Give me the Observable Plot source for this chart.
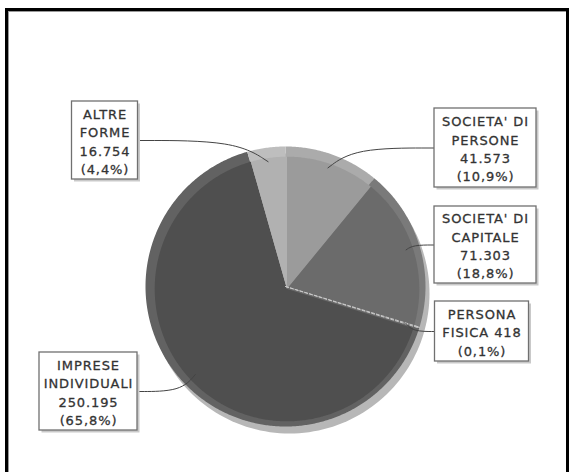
<!DOCTYPE html>
<html><head><meta charset="utf-8">
<script src="https://cdn.jsdelivr.net/npm/d3@7"></script>
<script src="https://cdn.jsdelivr.net/npm/@observablehq/plot@0.6"></script>
<style>
body{margin:0;background:#fff;}
#wrap{position:relative;width:571px;height:472px;overflow:hidden;background:#fff;}
#chart{position:absolute;left:0;top:0;}
#frame{position:absolute;left:5px;top:8px;width:558px;height:490px;border:3px solid #000;box-shadow:inset 1px 1px 0 #999;pointer-events:none;}
</style></head><body>
<div id="wrap"><div id="chart"></div><div id="frame"></div></div>
<script>
// ---- data ----
const categories = ["SOCIETA' DI PERSONE", "SOCIETA' DI CAPITALE", "PERSONA FISICA", "IMPRESE INDIVIDUALI", "ALTRE FORME"];
const values = [41573, 71303, 418, 250195, 16754];
const valueLabels = ["41.573", "71.303", "418", "250.195", "16.754"];
const percentLabels = ["10,9%", "18,8%", "0,1%", "65,8%", "4,4%"];
const labelTexts = [
  "SOCIETA' DI\nPERSONE\n41.573\n(10,9%)",
  "SOCIETA' DI\nCAPITALE\n71.303\n(18,8%)",
  "PERSONA\nFISICA 418\n(0,1%)",
  "IMPRESE\nINDIVIDUALI\n250.195\n(65,8%)",
  "ALTRE\nFORME\n16.754\n(4,4%)"
];

// ---- styles / layout ----
const mainColors = ["#9b9b9b", "#6b6b6b", "#b8b8b8", "#4f4f4f", "#b1b1b1"];
const rimColors  = ["#ababab", "#7a7a7a", "#c4c4c4", "#626262", "#bebebe"];
const R = 140;             // pie radius in px
const CX = 285, CY = 286;  // pie centre in px
// label boxes: centre offsets (px from pie centre, y down), size, side of the leader
const boxLayout = [
  {ox: 200, oy: -138.5, w: 102, h: 79, side: -1},
  {ox: 200, oy: -41.5, w: 102, h: 77, side: -1},
  {ox: 196.5, oy: 45, w: 94, h: 60, side: -1},
  {ox: -197, oy: 105, w: 98, h: 78, side: 1},
  {ox: -180.5, oy: -146, w: 66, h: 78, side: 1}
];

const W = 571, H = 472;
const xDomain = [-CX / R, (W - CX) / R];
const yDomain = [-(H - CY) / R, CY / R];

const arcs = d3.pie().sort(null).value(d => d)(values);

function slicePoints(a, r) {
  const pts = [{x: 0, y: 0}];
  const n = Math.max(2, Math.ceil((a.endAngle - a.startAngle) / 0.01));
  for (let k = 0; k <= n; k++) {
    const t = a.startAngle + (a.endAngle - a.startAngle) * k / n;
    pts.push({x: r * Math.sin(t), y: r * Math.cos(t)});
  }
  pts.push({x: 0, y: 0});
  return pts;
}
function circlePoints(r) {
  return d3.range(0, 361, 2).map(d => ({x: r * Math.sin(d * Math.PI / 180), y: r * Math.cos(d * Math.PI / 180)}));
}

const marks = [];
// drop shadow disc
marks.push(Plot.line(circlePoints(1), {x: "x", y: "y", fill: "#b7b7b7", stroke: "none", dx: 4, dy: 7}));
// rim slices
arcs.forEach((a, i) => {
  marks.push(Plot.line(slicePoints(a, 1), {x: "x", y: "y", fill: rimColors[i], stroke: "none"}));
});
// inner slices
arcs.forEach((a, i) => {
  if (i === 2) return;
  marks.push(Plot.line(slicePoints(a, 0.945), {x: "x", y: "y", fill: mainColors[i], stroke: "none", dx: 1.5, dy: 2.5}));
});
// very thin slice drawn as a light dashed radius
marks.push(Plot.line(slicePoints(arcs[2], 0.99), {x: "x", y: "y", fill: "none", stroke: "#c8c8c8", strokeWidth: 1, strokeDasharray: "3,2"}));

// labels
const labels = arcs.map((a, i) => {
  const L = boxLayout[i];
  const cx = L.ox / R, cy = -L.oy / R;
  const mid = (a.startAngle + a.endAngle) / 2;
  const px = 0.9 * Math.sin(mid), py = 0.9 * Math.cos(mid);
  const ax = cx + L.side * (L.w / 2) / R, ay = cy;
  return {
    name: categories[i], value: values[i], text: labelTexts[i],
    cx, cy, x1: cx - L.w / 2 / R, x2: cx + L.w / 2 / R, y1: cy - L.h / 2 / R, y2: cy + L.h / 2 / R,
    leader: [{x: ax, y: ay}, {x: ax + 0.75 * (px - ax), y: ay}, {x: px, y: py}]
  };
});

labels.forEach(l => {
  marks.push(Plot.line(l.leader, {x: "x", y: "y", curve: "basis", stroke: "#444", strokeWidth: 1}));
});
marks.push(Plot.rect(labels, {x1: "x1", x2: "x2", y1: "y1", y2: "y2", fill: "#c9c9c9", dx: 2.5, dy: 2.5}));
marks.push(Plot.rect(labels, {x1: "x1", x2: "x2", y1: "y1", y2: "y2", fill: "#fff", stroke: "#707070", strokeWidth: 1.3}));
marks.push(Plot.text(labels, {x: "cx", y: "cy", text: "text", fontSize: 13, lineHeight: 1.41, fill: "#333", stroke: "#333", strokeWidth: 0.3, fontFamily: "DejaVu Sans", textAnchor: "middle"}));

const chart = Plot.plot({
  width: W, height: H,
  margin: 0,
  x: {domain: xDomain, axis: null},
  y: {domain: yDomain, axis: null},
  style: {fontFamily: "DejaVu Sans", letterSpacing: "0.9px", background: "transparent"},
  marks
});
document.getElementById("chart").appendChild(chart);
</script>
</body></html>
